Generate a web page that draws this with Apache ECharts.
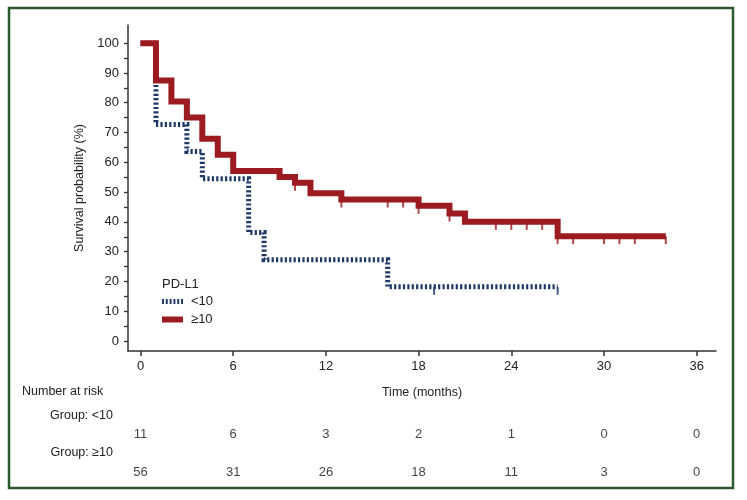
<!DOCTYPE html>
<html>
<head>
<meta charset="utf-8">
<script src="https://cdn.jsdelivr.net/npm/echarts@6/dist/echarts.min.js"></script>
<style>html,body{margin:0;padding:0;background:#fff;}#c{width:747px;height:500px;}</style>
</head>
<body>
<div id="c"></div>
<script>
// ---- data ----
const timeLow = [0, 1, 3, 4, 7, 8, 16, 27];
const survLow = [100, 72.7, 63.6, 54.5, 36.4, 27.3, 18.2, 18.2];
const censorLowT = [19, 27];
const censorLowS = [18.2, 18.2];

const timeHigh = [0, 1, 2, 3, 4, 5, 6, 9, 10, 11, 13, 18, 20, 21, 27, 34];
const survHigh = [100, 87.5, 80.4, 75, 67.9, 62.5, 57.1, 55.1, 53.1, 49.6, 47.5, 45.4, 42.8, 40.0, 35.2, 35.2];
const censorHighT = [10, 13, 16, 17, 18, 20, 23, 24, 25, 26, 27, 28, 30, 31, 32, 34];
const censorHighS = [53.1, 47.5, 47.5, 47.5, 45.4, 42.8, 40, 40, 40, 40, 35.2, 35.2, 35.2, 35.2, 35.2, 35.2];

const xTicks = [0, 6, 12, 18, 24, 30, 36];
const yTicks = [0, 10, 20, 30, 40, 50, 60, 70, 80, 90, 100];
const yAllTicks = [0, 5, 10, 15, 20, 25, 30, 35, 40, 45, 50, 55, 60, 65, 70, 75, 80, 85, 90, 95, 100];
const riskLow = [11, 6, 3, 2, 1, 0, 0];
const riskHigh = [56, 31, 26, 18, 11, 3, 0];

// ---- style ----
const RED = '#9c1b21';
const BLUE = '#1d3868';
const TXT = '#222';
const FONT = '"Liberation Sans", Arial, sans-serif';
const XMIN = -0.81, XMAX = 37.25, YMIN = -3.36, YMAX = 106.1;

const zip = (a, b) => a.map((v, i) => [v, b[i]]);

const chart = echarts.init(document.getElementById('c'), null, {renderer: 'canvas'});
chart.setOption({
  animation: false,
  textStyle: {fontFamily: FONT, color: TXT},
  grid: [
    {left: 128, right: 31, top: 25, bottom: 149},
    {left: 128, right: 31, top: 434, height: 38}
  ],
  xAxis: [
    {
      gridIndex: 0, type: 'value', min: XMIN, max: XMAX,
      name: 'Time (months)', nameLocation: 'middle', nameGap: 35,
      nameTextStyle: {fontSize: 12.5, color: TXT, fontFamily: FONT},
      axisLine: {show: true, onZero: false, lineStyle: {color: '#333', width: 1.5}},
      axisTick: {show: true, length: 5, customValues: xTicks, lineStyle: {color: '#333', width: 1.5}},
      axisLabel: {customValues: xTicks, fontSize: 13, color: TXT, margin: 9, fontFamily: FONT},
      splitLine: {show: false}
    },
    {
      gridIndex: 1, type: 'value', min: XMIN, max: XMAX, show: false
    }
  ],
  yAxis: [
    {
      gridIndex: 0, type: 'value', min: YMIN, max: YMAX, position: 'left',
      name: 'Survival probability (%)', nameLocation: 'middle', nameGap: 42,
      nameTextStyle: {fontSize: 12.5, color: TXT, fontFamily: FONT},
      axisLine: {show: true, onZero: false, lineStyle: {color: '#333', width: 1.5}},
      axisTick: {show: true, length: 4, customValues: yAllTicks, lineStyle: {color: '#333', width: 1.3}},
      axisLabel: {customValues: yTicks, fontSize: 13, color: TXT, margin: 9, fontFamily: FONT},
      splitLine: {show: false}
    },
    {
      gridIndex: 1, type: 'value', min: 0, max: 1, show: false
    }
  ],
  legend: {
    left: 162, top: 295, orient: 'vertical', padding: 0,
    itemWidth: 21, itemHeight: 6, itemGap: 5,
    selectedMode: false,
    textStyle: {fontSize: 13, color: TXT, fontFamily: FONT, padding: [0, 0, 0, 3]},
    data: [
      {name: '<10', icon: 'path://M0,0h2v5h-2z M4,0h2v5h-2z M8,0h2v5h-2z M12,0h2v5h-2z M16,0h2v5h-2z M20,0h2v5h-2z', itemStyle: {color: BLUE}},
      {name: '≥10', icon: 'rect', itemStyle: {color: RED}}
    ]
  },
  graphic: [
    {type: 'rect', shape: {x: 9, y: 8, width: 724, height: 480},
     style: {fill: 'none', stroke: '#2c5a2c', lineWidth: 2.5}, silent: true},
    {type: 'text', left: 162, top: 278, style: {text: 'PD-L1', fill: TXT, font: '13px ' + FONT}},
    {type: 'text', x: 22, y: 392, style: {text: 'Number at risk', fill: TXT, font: '12.5px ' + FONT, textVerticalAlign: 'middle'}},
    {type: 'text', x: 113, y: 416, style: {text: 'Group: <10', fill: TXT, font: '12.5px ' + FONT, textAlign: 'right', textVerticalAlign: 'middle'}},
    {type: 'text', x: 113, y: 453, style: {text: 'Group: ≥10', fill: TXT, font: '12.5px ' + FONT, textAlign: 'right', textVerticalAlign: 'middle'}}
  ],
  series: [
    {
      name: '<10', type: 'line', step: 'end', xAxisIndex: 0, yAxisIndex: 0,
      data: zip(timeLow, survLow), showSymbol: false, symbol: 'none',
      lineStyle: {color: BLUE, width: 5, type: [2.2, 2.2], cap: 'butt', join: 'miter'},
      itemStyle: {color: BLUE}, z: 2
    },
    {
      name: '≥10', type: 'line', step: 'end', xAxisIndex: 0, yAxisIndex: 0,
      data: zip(timeHigh, survHigh), showSymbol: false, symbol: 'none',
      lineStyle: {color: RED, width: 6, cap: 'butt', join: 'miter'},
      itemStyle: {color: RED}, z: 3
    },
    {
      name: 'cens<10', type: 'scatter', xAxisIndex: 0, yAxisIndex: 0,
      data: zip(censorLowT, censorLowS), symbol: 'rect', symbolSize: [2, 8], symbolOffset: [0, 4],
      itemStyle: {color: BLUE}, z: 4
    },
    {
      name: 'cens≥10', type: 'scatter', xAxisIndex: 0, yAxisIndex: 0,
      data: zip(censorHighT, censorHighS), symbol: 'rect', symbolSize: [2, 8], symbolOffset: [0, 4],
      itemStyle: {color: RED}, z: 4
    },
    {
      name: 'riskLow', type: 'scatter', xAxisIndex: 1, yAxisIndex: 1,
      data: xTicks.map((t, i) => [t, 1, riskLow[i]]), symbolSize: 1,
      itemStyle: {color: 'rgba(0,0,0,0)'},
      label: {show: true, position: 'inside', formatter: p => String(p.value[2]), fontSize: 13, color: '#111', fontFamily: FONT}
    },
    {
      name: 'riskHigh', type: 'scatter', xAxisIndex: 1, yAxisIndex: 1,
      data: xTicks.map((t, i) => [t, 0, riskHigh[i]]), symbolSize: 1,
      itemStyle: {color: 'rgba(0,0,0,0)'},
      label: {show: true, position: 'inside', formatter: p => String(p.value[2]), fontSize: 13, color: '#111', fontFamily: FONT}
    }
  ]
});
</script>
</body>
</html>
